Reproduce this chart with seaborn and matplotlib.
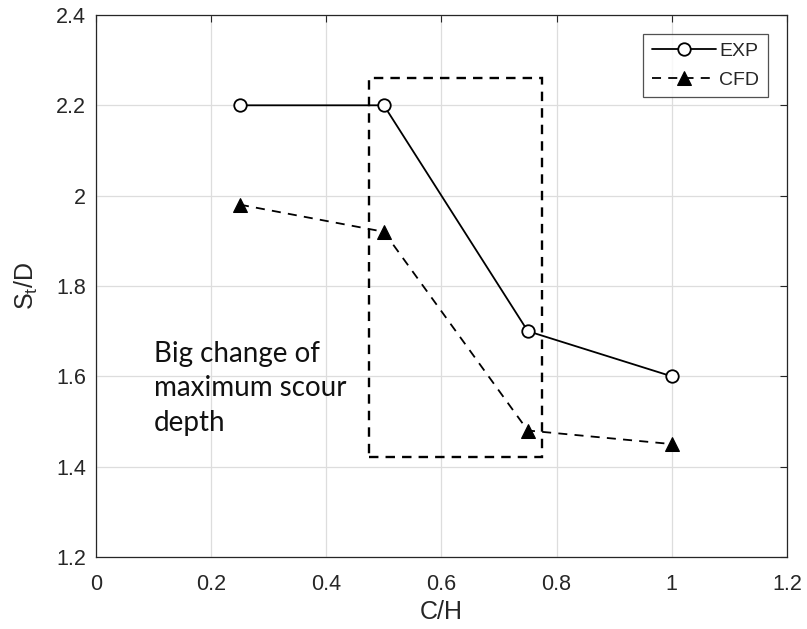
import matplotlib
matplotlib.use("Agg")
import matplotlib.pyplot as plt
import matplotlib.patches as mpatches
import seaborn as sns
import pandas as pd

ch = [0.25, 0.5, 0.75, 1.0]
exp_vals = [2.2, 2.2, 1.7, 1.6]
cfd_vals = [1.98, 1.92, 1.48, 1.45]
xticks = [0, 0.2, 0.4, 0.6, 0.8, 1, 1.2]
yticks = [1.2, 1.4, 1.6, 1.8, 2.0, 2.2, 2.4]
xtick_labels = ["0", "0.2", "0.4", "0.6", "0.8", "1", "1.2"]
ytick_labels = ["1.2", "1.4", "1.6", "1.8", "2", "2.2", "2.4"]

sns.set_theme(style="white")
plt.rcParams['font.family'] = ['Liberation Sans', 'DejaVu Sans']
plt.rcParams['mathtext.fontset'] = 'custom'
plt.rcParams['mathtext.rm'] = 'Liberation Sans'
plt.rcParams['mathtext.it'] = 'Liberation Sans'

fig = plt.figure(figsize=(8.07, 6.29), dpi=100)
ax = fig.add_axes([0.119, 0.1145, 0.856, 0.8617])

df_exp = pd.DataFrame({"x": ch, "y": exp_vals})
df_cfd = pd.DataFrame({"x": ch, "y": cfd_vals})
sns.lineplot(data=df_exp, x="x", y="y", ax=ax, color="black", linewidth=1.3,
             marker="o", markersize=9, markerfacecolor="white", markeredgecolor="black",
             markeredgewidth=1.3, label="EXP")
sns.lineplot(data=df_cfd, x="x", y="y", ax=ax, color="black", linewidth=1.3,
             marker="^", markersize=9.5, markerfacecolor="black", markeredgecolor="black",
             linestyle="--", label="CFD")
ax.lines[1].set_dashes([5, 4])

rect = mpatches.Rectangle((0.4747, 1.422), 0.2993, 0.838, fill=False,
                          edgecolor="black", linewidth=1.7, linestyle=(0, (4, 3)), zorder=5)
ax.add_patch(rect)

ax.text(0.10, 1.678, "Big change of\nmaximum scour\ndepth", fontsize=20,
        family=['Lato', 'DejaVu Sans'], va="top", ha="left", linespacing=1.4, color="#111111")

ax.set_xlim(0, 1.2)
ax.set_ylim(1.2, 2.4)
ax.set_xticks(xticks)
ax.set_xticklabels(xtick_labels)
ax.set_yticks(yticks)
ax.set_yticklabels(ytick_labels)
ax.grid(True, color="#dddddd", linewidth=0.9)
ax.tick_params(direction="in", length=5, width=0.8, colors="#262626", labelsize=15.5,
               top=True, right=True, labelcolor="#262626")
ax.tick_params(axis="x", pad=12)
ax.tick_params(axis="y", pad=7)
for s in ax.spines.values():
    s.set_color("#262626")
    s.set_linewidth(0.9)
ax.set_xlabel("C/H", fontsize=18, color="#262626", labelpad=4)
ax.set_ylabel("S$_\\mathrm{t}$/D", fontsize=18, color="#262626", labelpad=12)

leg = ax.legend(loc="upper right", bbox_to_anchor=(0.9725, 0.965), borderaxespad=0,
                fontsize=14, frameon=True, fancybox=False, edgecolor="#262626",
                handlelength=3.3, borderpad=0.45, labelspacing=0.55, handletextpad=0.15)
leg.get_frame().set_linewidth(0.9)

fig.savefig("out.png", dpi=100, facecolor="white")
